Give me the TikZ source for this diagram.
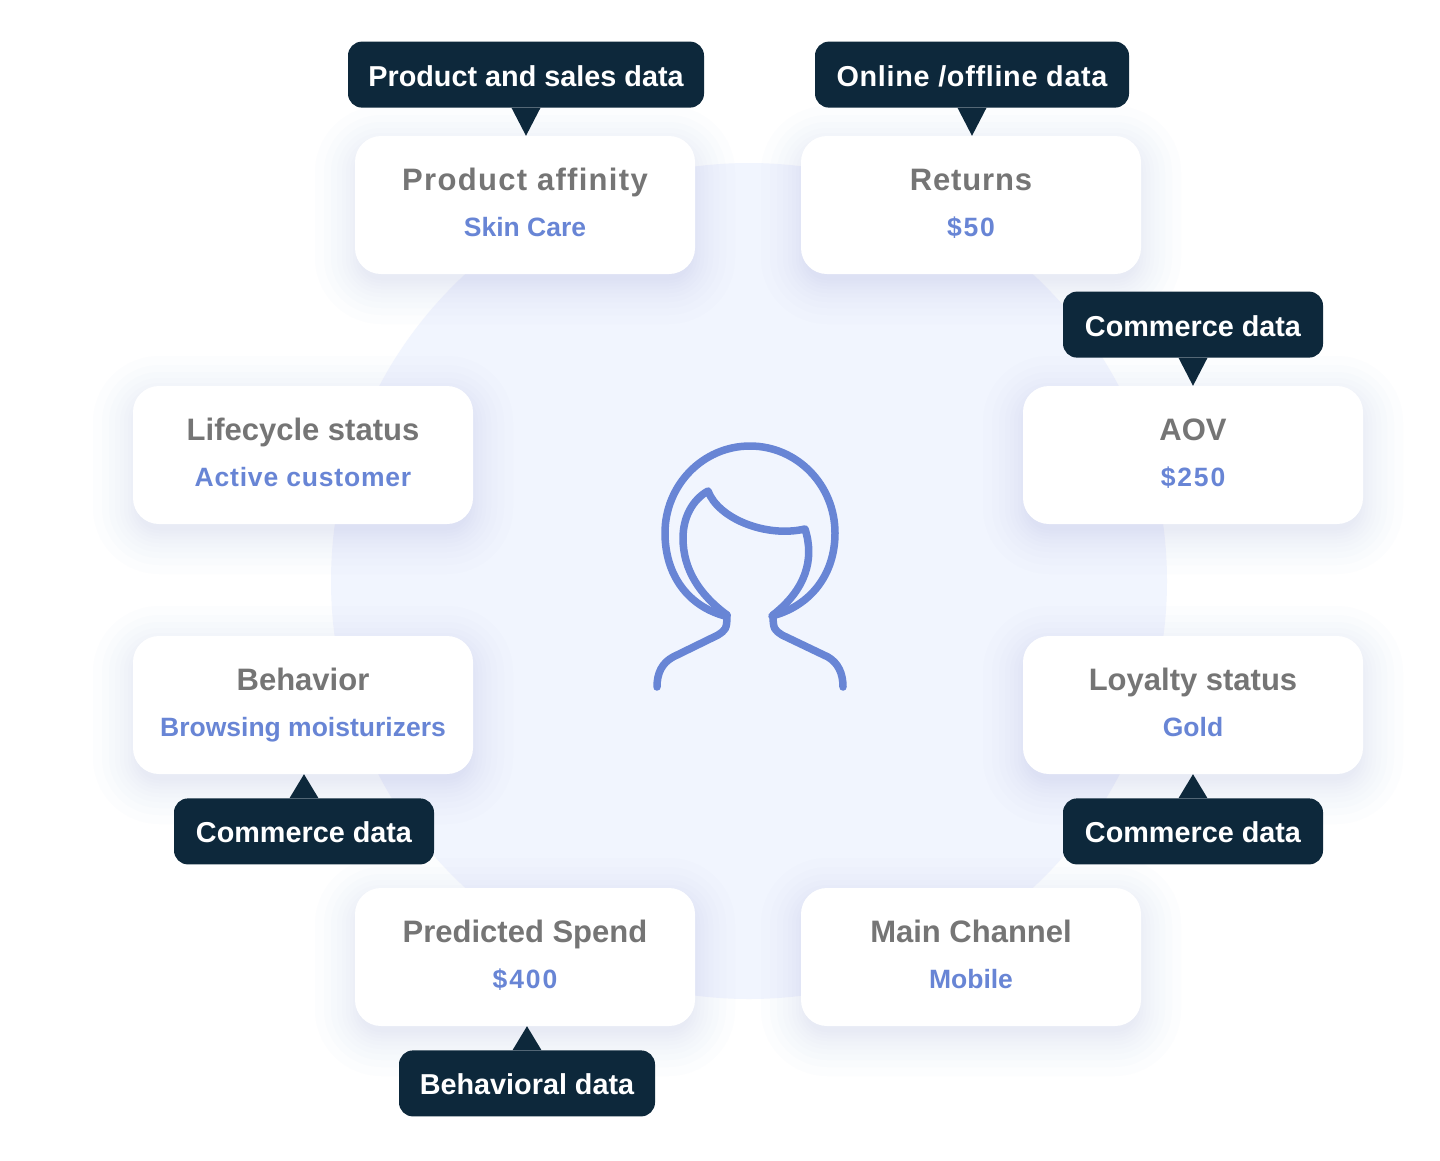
\documentclass[tikz,border=0pt]{standalone}
\usepackage{fontspec}
\setmainfont{Liberation Sans}
\usepackage{tikz}
\usetikzlibrary{calc}
\usetikzlibrary{positioning}
\definecolor{tagdark}{RGB}{13, 40, 59}
\definecolor{titlegray}{RGB}{117, 117, 117}
\definecolor{valueblue}{RGB}{104, 133, 213}
\definecolor{discblue}{RGB}{241, 245, 254}
\definecolor{glowblue}{RGB}{145, 165, 225}
\tikzset{
  x=1pt, y=-1pt,
  card/.style={
    fill=white, rounded corners=26pt, draw=none,
    minimum width=340pt, minimum height=138pt, inner sep=0
  },
  cardtitle/.style={
    anchor=base, inner sep=0, text=titlegray,
    font=\fontsize{31}{36}\selectfont\bfseries
  },
  cardvalue/.style={
    anchor=base, inner sep=0, text=valueblue,
    font=\fontsize{26.5}{30}\selectfont\bfseries
  },
  tag/.style={
    fill=tagdark, text=white, rounded corners=14pt,
    minimum height=66pt, inner sep=0, text height=23pt, text depth=0pt,
    font=\fontsize{28.8}{34}\selectfont\bfseries
  },
  tip/.style={fill=tagdark},
  glow/.style={fill=glowblue, opacity=.02},
  head/.style={draw=valueblue, line width=7.5pt, line cap=round, line join=round}
}
\newcommand{\spaced}[2]{{\addfontfeature{LetterSpace=#1}#2}}

\begin{document}
\begin{tikzpicture}
  \useasboundingbox (0,0) rectangle (1440,1160);
  \fill[white] (0,0) rectangle (1440,1160);
  \fill[discblue] (749,581) circle (418pt);

  % cards with their soft shadow
  \foreach \name/\cx/\cy/\title/\val in {
    product/525/205/{\spaced{4.2}{Product affinity}}/Skin Care,
    returns/971/205/{\spaced{2.8}{Returns}}/{\spaced{7}{\$50}},
    aov/1193/455/AOV/{\spaced{7}{\$250}},
    loyalty/1193/705/Loyalty status/Gold,
    channel/971/957/Main Channel/Mobile,
    spend/525/957/Predicted Spend/{\spaced{7}{\$400}},
    behavior/303/705/Behavior/Browsing moisturizers,
    lifecycle/303/455/Lifecycle status/{\spaced{3}{Active customer}}%
  }{
    \foreach \s in {-4,-1,2,5,9,13,18,24,31,40}
      \fill[glow, rounded corners=26pt+\s*1pt]
        (\cx-170-\s,\cy-69-\s+10) rectangle (\cx+170+\s,\cy+69+\s+10);
    \node[card] (\name) at (\cx,\cy) {};
    \node[cardtitle] (\name title) at ($(\name.center)+(0pt,15pt)$) {\title};
    \node[cardvalue] (\name value) at ($(\name.center)+(0pt,-31pt)$) {\val};
  }

  % data tags
  \node[tag, minimum width=356pt, above=28pt of product, xshift=1pt] (productdata) {Product and sales data};
  \node[tag, minimum width=314pt, above=28pt of returns, xshift=1pt] (onlinedata) {\spaced{2.4}{Online /offline data}};
  \node[tag, minimum width=260pt, above=28pt of aov] (aovdata) {Commerce data};
  \node[tag, minimum width=260pt, below=24pt of loyalty] (loyaltydata) {Commerce data};
  \node[tag, minimum width=260pt, below=24pt of behavior, xshift=1pt] (behaviordata) {Commerce data};
  \node[tag, minimum width=256pt, below=24pt of spend, xshift=2pt] (spenddata) {Behavioral data};

  \fill[tip] ($(productdata.south)+(-14.5pt,0pt)$) -- (productdata.south |- product.north) -- ($(productdata.south)+(14.5pt,0pt)$) -- cycle;
  \fill[tip] ($(onlinedata.south)+(-14.5pt,0pt)$) -- (onlinedata.south |- returns.north) -- ($(onlinedata.south)+(14.5pt,0pt)$) -- cycle;
  \fill[tip] ($(aovdata.south)+(-14.5pt,0pt)$) -- (aovdata.south |- aov.north) -- ($(aovdata.south)+(14.5pt,0pt)$) -- cycle;
  \fill[tip] ($(loyaltydata.north)+(-14.5pt,0pt)$) -- (loyaltydata.north |- loyalty.south) -- ($(loyaltydata.north)+(14.5pt,0pt)$) -- cycle;
  \fill[tip] ($(behaviordata.north)+(-14.5pt,0pt)$) -- (behaviordata.north |- behavior.south) -- ($(behaviordata.north)+(14.5pt,0pt)$) -- cycle;
  \fill[tip] ($(spenddata.north)+(-14.5pt,0pt)$) -- (spenddata.north |- spend.south) -- ($(spenddata.north)+(14.5pt,0pt)$) -- cycle;

  % person
  \draw[head] (725,616) .. controls (688,606) and (665,575) .. (665,533)
    .. controls (665,485) and (703,446) .. (750,446)
    .. controls (797,446) and (835,485) .. (835,533)
    .. controls (835,575) and (810,606) .. (772,616);
  \draw[head] (727,615) .. controls (700,595) and (683,570) .. (683,538)
    .. controls (683,518) and (692,500) .. (708,491)
    .. controls (718,518) and (765,538) .. (805,529)
    .. controls (815,560) and (805,590) .. (773,615);
  \draw[head] (727,615) .. controls (727,630) and (725,630) .. (718,635)
    -- (673,657) .. controls (662,663) and (657,673) .. (657,687);
  \draw[head] (773,615) .. controls (773,630) and (775,630) .. (782,635)
    -- (828,657) .. controls (838,663) and (843,673) .. (843,687);
\end{tikzpicture}
\end{document}
